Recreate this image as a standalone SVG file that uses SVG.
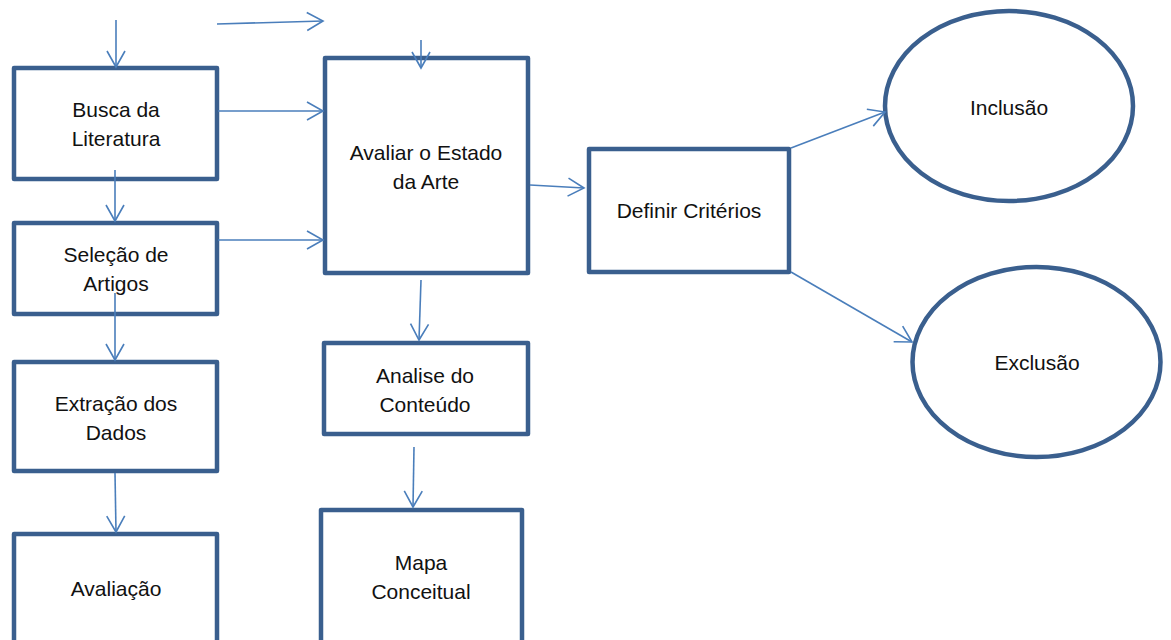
<svg xmlns="http://www.w3.org/2000/svg" width="1171" height="640" viewBox="0 0 1171 640">
  <defs>
    <marker id="arr" markerUnits="userSpaceOnUse" markerWidth="24" markerHeight="24" viewBox="-18 -12 20 24" refX="0" refY="0" orient="auto">
      <path d="M-16,-9 L0,0 L-16,9" fill="none" stroke="#4A7EBB" stroke-width="1.6"/>
    </marker>
    <style>
      .box { fill: #FFFFFF; stroke: #3A5F8E; stroke-width: 4.5; stroke-linejoin: round; }
      .lbl { font-family: "Liberation Sans", Arial, sans-serif; font-size: 21px; fill: #111111; text-anchor: middle; }
      .conn line { stroke: #4A7EBB; stroke-width: 1.6; marker-end: url(#arr); }
    </style>
  </defs>
  <rect width="1171" height="640" fill="#FFFFFF"/>

  <g id="busca">
    <rect class="box" x="14" y="68" width="203" height="111"/>
    <text class="lbl" x="116" y="117">Busca da</text>
    <text class="lbl" x="116" y="146">Literatura</text>
  </g>
  <g id="selecao">
    <rect class="box" x="14" y="223" width="203" height="91"/>
    <text class="lbl" x="116" y="262">Seleção de</text>
    <text class="lbl" x="116" y="291">Artigos</text>
  </g>
  <g id="extracao">
    <rect class="box" x="14" y="362" width="203" height="109"/>
    <text class="lbl" x="116" y="411">Extração dos</text>
    <text class="lbl" x="116" y="440">Dados</text>
  </g>
  <g id="avaliacao">
    <rect class="box" x="14" y="534" width="203" height="120"/>
    <text class="lbl" x="116" y="596">Avaliação</text>
  </g>
  <g id="avaliar">
    <rect class="box" x="325" y="58" width="203" height="215"/>
    <text class="lbl" x="426" y="160">Avaliar o Estado</text>
    <text class="lbl" x="426" y="189">da Arte</text>
  </g>
  <g id="analise">
    <rect class="box" x="324" y="343" width="204" height="91"/>
    <text class="lbl" x="425" y="383">Analise do</text>
    <text class="lbl" x="425" y="412">Conteúdo</text>
  </g>
  <g id="mapa">
    <rect class="box" x="321" y="510" width="201" height="140"/>
    <text class="lbl" x="421" y="570">Mapa</text>
    <text class="lbl" x="421" y="599">Conceitual</text>
  </g>
  <g id="definir">
    <rect class="box" x="589" y="149" width="200" height="123"/>
    <text class="lbl" x="689" y="218">Definir Critérios</text>
  </g>
  <g id="inclusao">
    <ellipse class="box" cx="1009" cy="106" rx="124" ry="95"/>
    <text class="lbl" x="1009" y="115">Inclusão</text>
  </g>
  <g id="exclusao">
    <ellipse class="box" cx="1036.5" cy="362" rx="124" ry="95"/>
    <text class="lbl" x="1037" y="370">Exclusão</text>
  </g>

  <g id="connectors" class="conn">
    <line x1="116" y1="20" x2="116" y2="67"/>
    <line x1="217" y1="24" x2="323" y2="21"/>
    <line x1="421" y1="40" x2="421" y2="68"/>
    <line x1="218" y1="111" x2="323" y2="111"/>
    <line x1="115" y1="170" x2="115" y2="221"/>
    <line x1="218" y1="240" x2="323" y2="240"/>
    <line x1="115" y1="293" x2="115" y2="360"/>
    <line x1="115" y1="473" x2="116" y2="532"/>
    <line x1="530" y1="185" x2="584" y2="188"/>
    <line x1="421" y1="280" x2="419" y2="340"/>
    <line x1="414" y1="447" x2="413" y2="507"/>
    <line x1="791" y1="148" x2="885" y2="112"/>
    <line x1="791" y1="272" x2="912" y2="342"/>
  </g>
</svg>
